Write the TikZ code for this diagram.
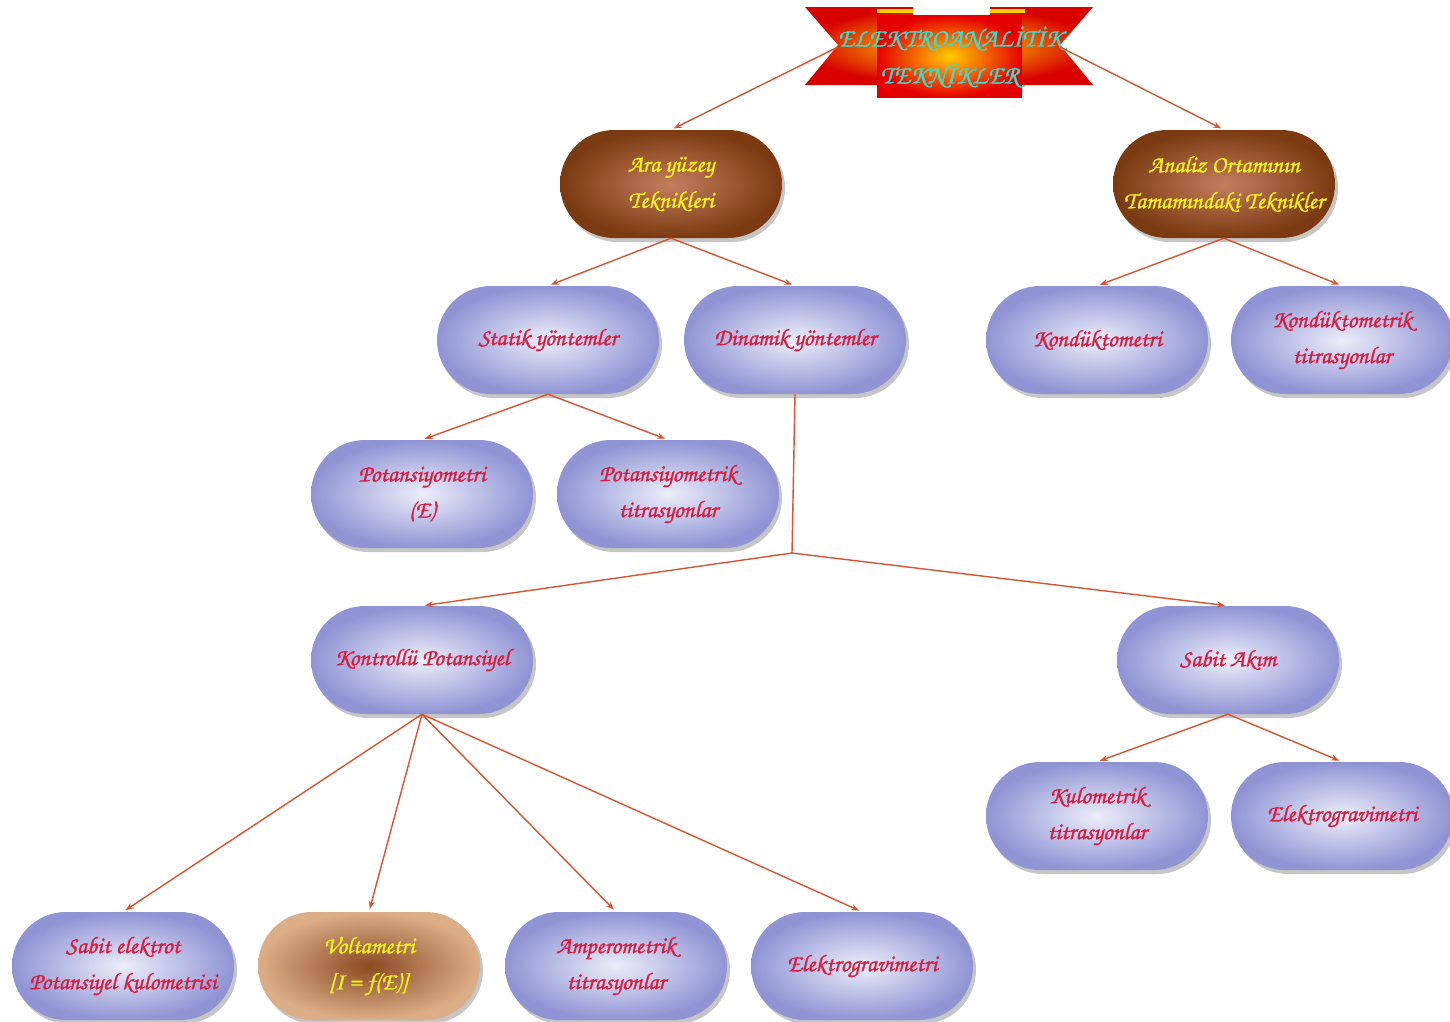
\documentclass[tikz,border=0pt]{standalone}
\usepackage{fontspec}
\usetikzlibrary{shapes.misc,shadows,arrows.meta}
\newfontfamily\chorus[FakeBold=1.2]{TeX Gyre Chorus}
\definecolor{linec}{HTML}{D9532F}
\definecolor{blueIn}{HTML}{ECEEFA}
\definecolor{blueOut}{HTML}{9094D4}
\definecolor{redT}{HTML}{D81E40}
\definecolor{yellowT}{HTML}{F2F020}
\definecolor{brOut}{HTML}{7B3A12}
\definecolor{brIn}{HTML}{C47E5C}
\definecolor{tanOut}{HTML}{DCAE88}
\definecolor{tanIn}{HTML}{8B4A22}
\definecolor{cyanT}{HTML}{3FD8D0}
\tikzset{
  pill/.style={rounded rectangle, minimum width=222pt, minimum height=108pt, inner sep=0pt,
    align=center, font=\chorus\fontsize{24}{36}\selectfont,
    drop shadow={shadow xshift=3pt, shadow yshift=-4pt, fill=black!50, opacity=0.45}},
  bluep/.style={pill, inner color=blueIn, outer color=blueOut, text=redT},
  brownp/.style={pill, inner color=brIn, outer color=brOut, text=yellowT},
  tanp/.style={pill, inner color=tanIn, outer color=tanOut, text=yellowT},
  conn/.style={draw=linec, line width=1.4pt, shorten >=3pt, -{Stealth[length=8pt,width=6pt]}},
  plain/.style={draw=linec, line width=1.4pt}
}
\begin{document}
\begin{tikzpicture}[x=1pt,y=-1pt]
\useasboundingbox (0,0) rectangle (1450,1021);
% banner
\shade[inner color=yellow!80!orange, outer color=red!85!black] (805,7) -- (913,7) -- (913,17) -- (990,17) -- (990,7) -- (1093,7) -- (1060,45) -- (1093,85) -- (805,85) -- (838,45) -- cycle;
\fill[yellow!70!orange] (877,9) rectangle (913,13);
\fill[yellow!70!orange] (990,9) rectangle (1025,13);
\node[rectangle, minimum width=145pt, minimum height=82pt, inner sep=0pt,
  inner color=yellow!60!orange, outer color=red!90!black, anchor=north west] (banrect) at (877,15) {};
\node[align=center, text=cyanT, font=\chorus\fontsize{26}{37}\selectfont] (banner) at (950,57) {ELEKTROANALİTİK\\TEKNİKLER};
\coordinate (bl) at (838,47);
\coordinate (br) at (1060,47);

% nodes
\node[brownp] (ara) at (671,184) {Ara yüzey\\Teknikleri};
\node[brownp] (analiz) at (1224,184) {Analiz Ortamının\\Tamamındaki Teknikler};
\node[bluep] (statik) at (548,340) {Statik yöntemler};
\node[bluep] (dinamik) at (795,340) {Dinamik yöntemler};
\node[bluep] (kond) at (1097,340) {Kondüktometri};
\node[bluep] (kondt) at (1342,340) {Kondüktometrik\\titrasyonlar};
\node[bluep] (pot) at (422,494) {Potansiyometri\\(E)};
\node[bluep] (pott) at (668,494) {Potansiyometrik\\titrasyonlar};
\node[bluep] (kontr) at (422,660) {Kontrollü Potansiyel};
\node[bluep] (sabit) at (1228,660) {Sabit Akım};
\node[bluep] (kulo) at (1097,816) {Kulometrik\\titrasyonlar};
\node[bluep] (elek1) at (1342,816) {Elektrogravimetri};
\node[bluep] (sabel) at (123,966) {Sabit elektrot\\Potansiyel kulometrisi};
\node[tanp] (volt) at (369,966) {Voltametri\\{}[I = f(E)]};
\node[bluep] (amp) at (616,966) {Amperometrik\\titrasyonlar};
\node[bluep] (elek2) at (862,966) {Elektrogravimetri};

% connectors
\coordinate (j) at (792,553);
\draw[conn] (bl) -- (ara.north);
\draw[conn] (br) -- (analiz.north);
\draw[conn] (ara.south) -- (statik.north);
\draw[conn] (ara.south) -- (dinamik.north);
\draw[conn] (analiz.south) -- (kond.north);
\draw[conn] (analiz.south) -- (kondt.north);
\draw[conn] (statik.south) -- (pot.north);
\draw[conn] (statik.south) -- (pott.north);
\draw[plain] (dinamik.south) -- (j);
\draw[conn] (j) -- (kontr.north);
\draw[conn] (j) -- (sabit.north);
\draw[conn] (sabit.south) -- (kulo.north);
\draw[conn] (sabit.south) -- (elek1.north);
\draw[conn] (kontr.south) -- (sabel.north);
\draw[conn] (kontr.south) -- (volt.north);
\draw[conn] (kontr.south) -- (amp.north);
\draw[conn] (kontr.south) -- (elek2.north);
\end{tikzpicture}
\end{document}
